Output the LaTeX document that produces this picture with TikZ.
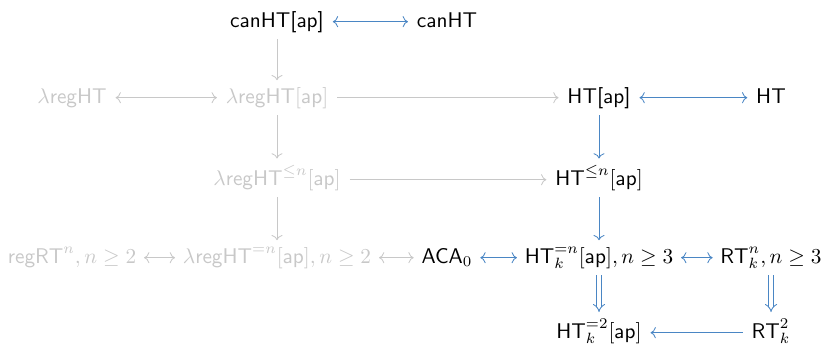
\documentclass[tikz,border=0pt]{standalone}
\usetikzlibrary{arrows.meta}
\definecolor{linkblue}{RGB}{74,134,196}
\definecolor{faded}{RGB}{200,200,200}
\tikzset{
  every node/.style={anchor=base, inner xsep=4pt, inner ysep=3pt, font=\sffamily},
  live/.style={text=black},
  dim/.style={text=faded},
  bluearr/.style={draw=linkblue, line width=0.4pt},
  greyarr/.style={draw=faded, line width=0.4pt},
  tight/.style={shorten <=-0.5pt, shorten >=-0.5pt},
  implarr/.style={draw=linkblue, line width=0.4pt, double=white, double distance=1.6pt, -{Implies}},
}
% horizontal connectors run at the math axis of the row
\newcommand\axisE[1]{([yshift=2.5pt]#1.base -| #1.east)}
\newcommand\axisW[1]{([yshift=2.5pt]#1.base -| #1.west)}
\begin{document}
\begin{tikzpicture}[x=0.47pt, y=-0.47pt]
\useasboundingbox (0,0) rectangle (824,350);

% row 1
\node[live] (canap) at (277,27) {canHT[ap]};
\node[live] (can)   at (447,27) {canHT};
% row 2
\node[dim]  (lreg)   at (72,103)  {$\lambda\mathsf{regHT}$};
\node[dim]  (lregap) at (277,103) {$\lambda\mathsf{regHT}[\mathsf{ap}]$};
\node[live] (htap)   at (599,103) {HT[ap]};
\node[live] (ht)     at (771,103) {HT};
% row 3
\node[dim]  (lregle) at (277,185) {$\lambda\mathsf{regHT}^{\le n}[\mathsf{ap}]$};
\node[live] (htle)   at (599,185) {$\mathsf{HT}^{\le n}[\mathsf{ap}]$};
% row 4
\node[dim]  (regrt)  at (72,263)  {$\mathsf{regRT}^n, n\ge 2$};
\node[dim]  (lregeq) at (277,263) {$\lambda\mathsf{regHT}^{=n}[\mathsf{ap}], n\ge 2$};
\node[live] (aca)    at (447,263) {$\mathsf{ACA}_0$};
\node[live] (hteq)   at (599,263) {$\mathsf{HT}^{=n}_k[\mathsf{ap}], n\ge 3$};
\node[live] (rtn)    at (771,263) {$\mathsf{RT}^n_k, n\ge 3$};
% row 5
\node[live] (httwo)  at (599,338) {$\mathsf{HT}^{=2}_k[\mathsf{ap}]$};
\node[live] (rttwo)  at (771,338) {$\mathsf{RT}^2_k$};

% faded connectors
\draw[greyarr, ->]  (canap) -- (lregap);
\draw[greyarr, <->] \axisE{lreg} -- \axisW{lregap};
\draw[greyarr, ->]  \axisE{lregap} -- \axisW{htap};
\draw[greyarr, ->]  (lregap) -- (lregle);
\draw[greyarr, ->]  \axisE{lregle} -- \axisW{htle};
\draw[greyarr, ->]  (lregle) -- (lregeq);
\draw[greyarr, <->, tight] \axisE{regrt} -- \axisW{lregeq};
\draw[greyarr, <->, tight] \axisE{lregeq} -- \axisW{aca};

% coloured connectors
\draw[bluearr, <->] \axisE{canap} -- \axisW{can};
\draw[bluearr, <->] \axisE{htap} -- \axisW{ht};
\draw[bluearr, ->]  (htap) -- (htle);
\draw[bluearr, ->]  (htle) -- (hteq);
\draw[bluearr, <->, tight] \axisE{aca} -- \axisW{hteq};
\draw[bluearr, <->, tight] \axisE{hteq} -- \axisW{rtn};
\draw[bluearr, ->]  \axisW{rttwo} -- \axisE{httwo};
\draw[implarr] (hteq.south -| httwo) -- (httwo);
\draw[implarr] (rtn.south -| rttwo) -- (rttwo);
\end{tikzpicture}
\end{document}
